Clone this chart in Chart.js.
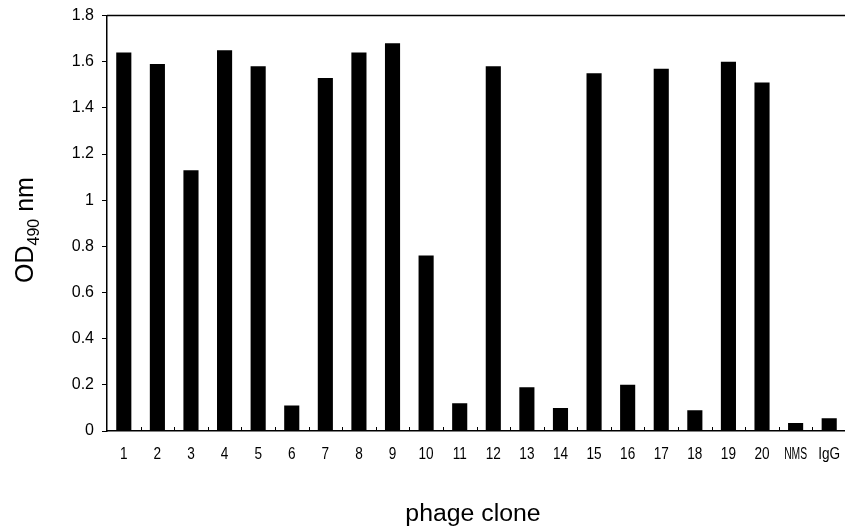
<!DOCTYPE html>
<html>
<head>
<meta charset="utf-8">
<script src="https://cdn.jsdelivr.net/npm/chart.js@4.4.1/dist/chart.umd.min.js"></script>
<style>
  html, body { margin: 0; padding: 0; background: #fff; overflow: hidden; }
  #wrap { width: 845px; height: 529px; overflow: hidden; }
  #odChart { display: block; margin-top: -2px; }
</style>
</head>
<body>
<div id="wrap"><canvas id="odChart" width="846" height="531"></canvas></div>
<script>
// données
const clones = ['1','2','3','4','5','6','7','8','9','10','11','12','13','14','15','16','17','18','19','20','NMS','IgG'];
const odValues = [1.64, 1.59, 1.13, 1.65, 1.58, 0.11, 1.53, 1.64, 1.68, 0.76, 0.12, 1.58, 0.19, 0.10, 1.55, 0.20, 1.57, 0.09, 1.60, 1.51, 0.035, 0.055];
const yTicks = [0, 0.2, 0.4, 0.6, 0.8, 1, 1.2, 1.4, 1.6, 1.8];
const xTitle = 'phage clone';

// cadre du haut, étiquettes x serrées, graduations internes, titres
const decorPlugin = {
    id: 'decor',
    afterDraw(chart) {
        const ctx = chart.ctx;
        const area = chart.chartArea;
        const x = chart.scales.x;
        ctx.save();
        ctx.strokeStyle = '#000';
        ctx.lineWidth = 1.5;
        ctx.beginPath();
        ctx.moveTo(area.left, area.top);
        ctx.lineTo(area.right, area.top);
        ctx.stroke();

        // graduations entre les catégories, vers l'intérieur
        ctx.lineWidth = 1;
        ctx.beginPath();
        for (let i = 1; i < clones.length; i++) {
            const px = (x.getPixelForValue(i - 1) + x.getPixelForValue(i)) / 2;
            ctx.moveTo(Math.round(px) + 0.5, area.bottom);
            ctx.lineTo(Math.round(px) + 0.5, area.bottom - 4);
        }
        ctx.stroke();

        // étiquettes de l'axe x (police étroite)
        ctx.fillStyle = '#000';
        ctx.textAlign = 'center';
        ctx.textBaseline = 'alphabetic';
        ctx.font = '16px "Liberation Sans", Arial, sans-serif';
        clones.forEach((lab, i) => {
            const px = x.getPixelForValue(i);
            ctx.save();
            ctx.translate(px, area.bottom + 28);
            ctx.scale(0.85, 1);
            ctx.fillText(lab, 0, 0, 27);
            ctx.restore();
        });

        // titre x
        ctx.font = '23px "Liberation Sans", Arial, sans-serif';
        ctx.save();
        ctx.translate(473, area.bottom + 90);
        ctx.scale(1.08, 1);
        ctx.fillText(xTitle, 0, 0);
        ctx.restore();

        // titre y avec indice : OD490 nm
        ctx.translate(33, 232);
        ctx.rotate(-Math.PI / 2);
        ctx.textAlign = 'left';
        const big = '25px "Liberation Sans", Arial, sans-serif';
        const small = '16px "Liberation Sans", Arial, sans-serif';
        ctx.font = big;
        const w1 = ctx.measureText('OD').width;
        const w3 = ctx.measureText(' nm').width;
        ctx.font = small;
        const w2 = ctx.measureText('490').width;
        let cx = -(w1 + w2 + w3) / 2;
        ctx.font = big;
        ctx.fillText('OD', cx, 0);
        cx += w1;
        ctx.font = small;
        ctx.fillText('490', cx, 6);
        cx += w2;
        ctx.font = big;
        ctx.fillText(' nm', cx, 0);
        ctx.restore();
    }
};

new Chart(document.getElementById('odChart'), {
    type: 'bar',
    data: {
        labels: clones,
        datasets: [{
            data: odValues,
            backgroundColor: '#000',
            borderWidth: 0,
            categoryPercentage: 1,
            barPercentage: 0.45
        }]
    },
    options: {
        responsive: false,
        animation: false,
        devicePixelRatio: 1,
        layout: { padding: { top: 1, left: 0, right: 0, bottom: 0 } },
        plugins: { legend: { display: false }, tooltip: { enabled: false } },
        scales: {
            x: {
                offset: true,
                grid: { display: false },
                border: { display: true, color: '#000', width: 1.5 },
                ticks: { display: false },
                afterFit(scale) { scale.height = 98; }
            },
            y: {
                min: 0,
                max: 1.8,
                afterBuildTicks(scale) { scale.ticks = yTicks.map(v => ({ value: v })); },
                grid: { drawOnChartArea: false, tickLength: 5, color: '#000' },
                border: { display: true, color: '#000', width: 1.5 },
                ticks: {
                    color: '#000',
                    padding: 8,
                    font: { family: '"Liberation Sans", Arial', size: 16 },
                    callback: v => String(v)
                },
                afterFit(scale) { scale.width = 107; }
            }
        }
    },
    plugins: [decorPlugin]
});
</script>
</body>
</html>
